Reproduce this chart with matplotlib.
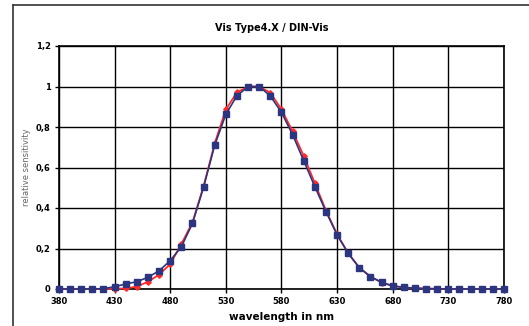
import matplotlib
matplotlib.use("Agg")
import matplotlib.pyplot as plt
from matplotlib.lines import Line2D
from matplotlib.ticker import FuncFormatter

wavelength = list(range(380, 790, 10))
vis_type4x = [0, 0, 0, 0, 0.002, 0.011, 0.025, 0.036, 0.058, 0.09, 0.14, 0.209, 0.324,
              0.504, 0.711, 0.863, 0.955, 0.999, 1.0, 0.953, 0.872, 0.762, 0.633, 0.505,
              0.382, 0.267, 0.176, 0.105, 0.061, 0.033, 0.015, 0.008, 0.004, 0.002,
              0.001, 0, 0, 0, 0, 0, 0]
din_vis = [0, 0, 0, 0, 0, 0.001, 0.003, 0.012, 0.036, 0.071, 0.123, 0.222, 0.33,
           0.508, 0.72, 0.887, 0.971, 1.0, 1.0, 0.969, 0.887, 0.778, 0.657, 0.522,
           0.387, 0.27, 0.176, 0.105, 0.061, 0.032, 0.015, 0.008, 0.004, 0.002,
           0.001, 0, 0, 0, 0, 0, 0]
x_ticks = list(range(380, 790, 50))
y_ticks = [0, 0.2, 0.4, 0.6, 0.8, 1.0, 1.2]

fig = plt.figure(figsize=(5.29, 3.26), dpi=100)
fig.patch.set_facecolor("white")

# outer frame (left and top edges visible)
fig.add_artist(Line2D([13/529, 13/529], [0, 1 - 5/326], color="#333333", lw=1.2, transform=fig.transFigure))
fig.add_artist(Line2D([13/529, 1], [1 - 5/326, 1 - 5/326], color="#333333", lw=1.2, transform=fig.transFigure))

ax = fig.add_axes([59/529, 1 - 289/326, (504 - 59)/529, (289 - 46)/326])
ax.set_xlim(380, 780)
ax.set_ylim(0, 1.2)
ax.set_xticks(x_ticks)
ax.set_yticks(y_ticks)
ax.grid(True, color="black", lw=1.0)
ax.set_axisbelow(True)
for s in ax.spines.values():
    s.set_color("black")
    s.set_linewidth(1.2)

def fmt(v, pos):
    if abs(v) < 1e-9:
        return "0"
    if abs(v - round(v)) < 1e-9:
        return str(int(round(v)))
    return ("%g" % v).replace(".", ",")

ax.yaxis.set_major_formatter(FuncFormatter(fmt))
ax.tick_params(axis="both", labelsize=6, length=3, width=1, direction="out", pad=3)
for lab in ax.get_xticklabels() + ax.get_yticklabels():
    lab.set_fontweight("bold")

ax.plot(wavelength, din_vis, color="#FF2A2A", lw=1.3, marker="D", markersize=2.8,
        markerfacecolor="#FF2A2A", markeredgecolor="#FF2A2A", clip_on=False, zorder=3)
ax.plot(wavelength, vis_type4x, color="#2B3580", lw=1.2, marker="s", markersize=4.2,
        markerfacecolor="#2B3580", markeredgecolor="#2B3580", clip_on=False, zorder=4)

ax.set_xlabel("wavelength in nm", fontsize=7.5, fontweight="bold", labelpad=4)
ax.set_ylabel("relative sensitivity", fontsize=6, color="#666666")
ax.yaxis.set_label_coords(-0.063, 0.5)
fig.text(272/529, 1 - 28/326, "Vis Type4.X / DIN-Vis", ha="center", va="center",
         fontsize=7, fontweight="bold")

fig.savefig("out.png", dpi=100, facecolor="white")
